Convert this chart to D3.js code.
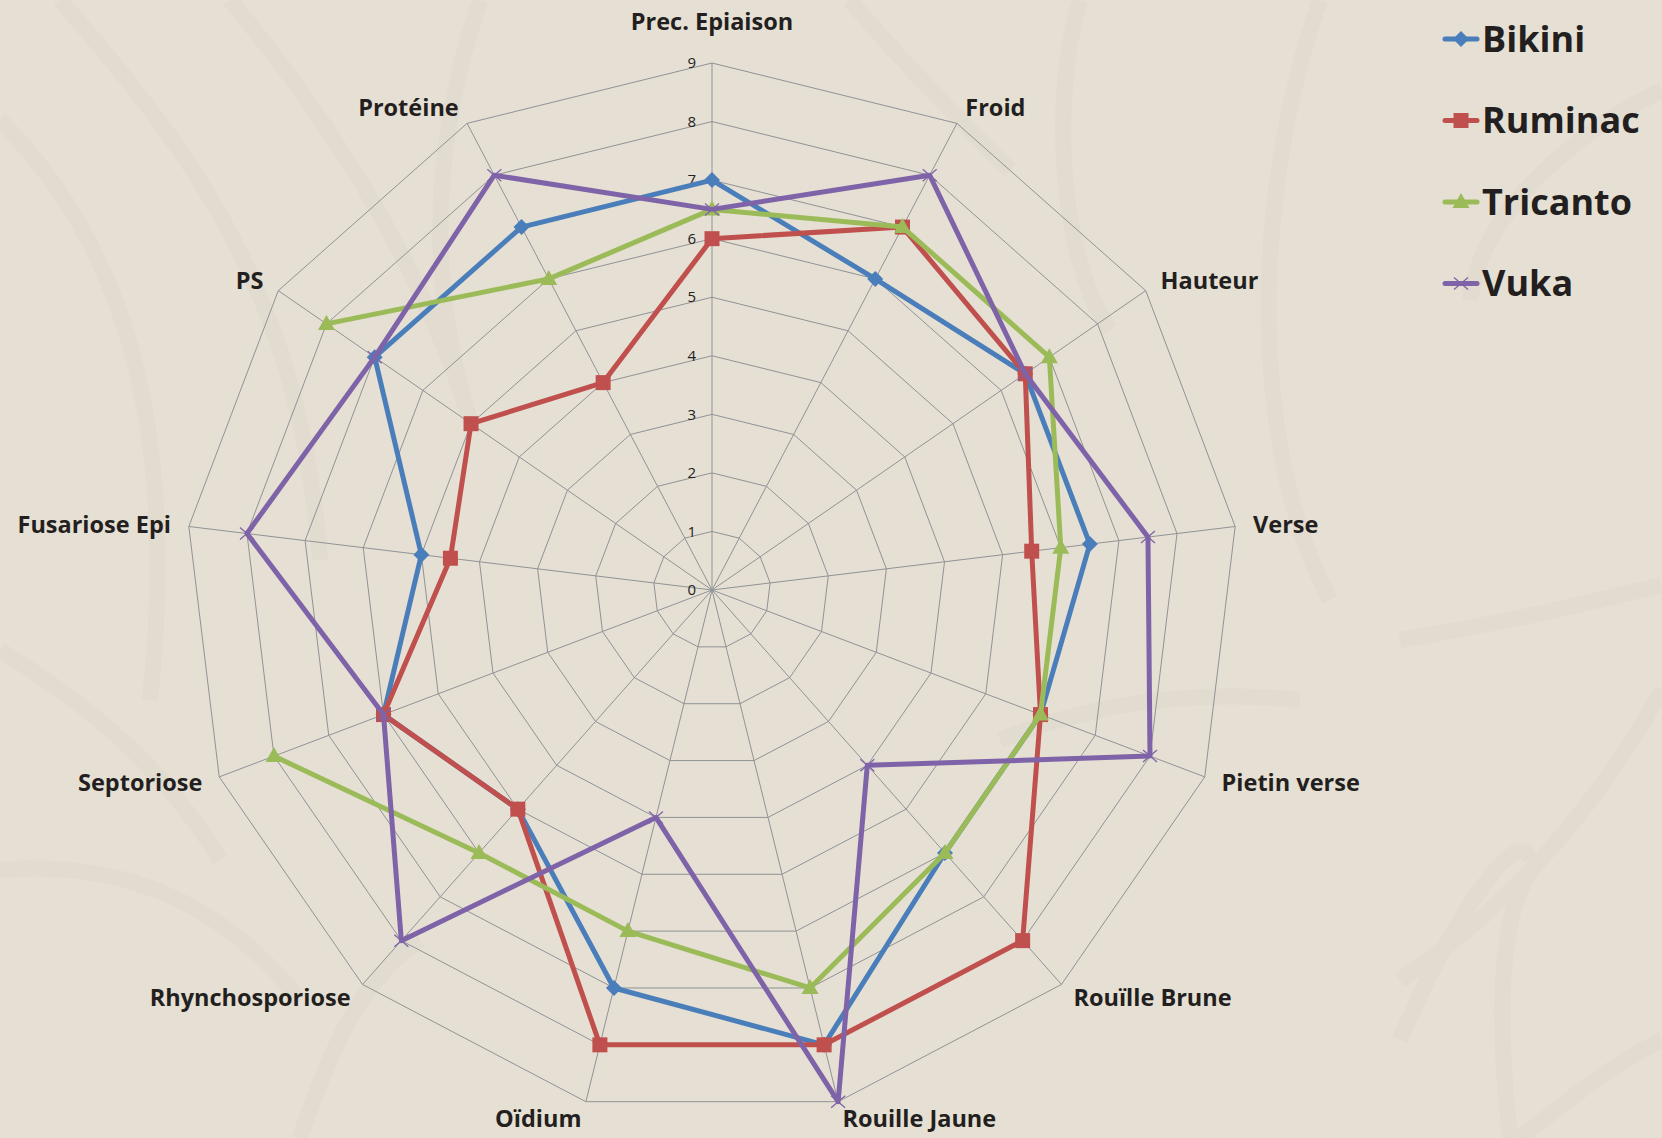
<!DOCTYPE html>
<html>
<head>
<meta charset="utf-8">
<script src="https://cdn.jsdelivr.net/npm/d3@7"></script>
<style>
  body { margin: 0; background: #e6dfd3; }
  svg { display: block; }
</style>
</head>
<body>
<script>
// axes of the radar, clockwise from the top
var categories = ["Prec. Epiaison", "Froid", "Hauteur", "Verse", "Pietin verse", "Rouïlle Brune",
  "Rouille Jaune", "Oïdium", "Rhynchosporiose", "Septoriose", "Fusariose Epi", "PS", "Protéine"];

var seriesNames = ["Bikini", "Ruminac", "Tricanto", "Vuka"];
var bikini   = [7, 6, 6.5, 6.5, 6, 6, 8, 7, 5, 6, 5, 7, 7];
var ruminac  = [6, 7, 6.5, 5.5, 6, 8, 8, 8, 5, 6, 4.5, 5, 4];
var tricanto = [6.5, 7, 7, 6, 6, 6, 7, 6, 6, 8, null, 8, 6];  // no value for Fusariose Epi
var vuka     = [6.5, 8, 6.5, 7.5, 8, 4, 9, 4, 8, 6, 8, 7, 8];
var ticks = [0, 1, 2, 3, 4, 5, 6, 7, 8, 9];

var colors = {Bikini: "#4a7ebb", Ruminac: "#c0504d", Tricanto: "#9bbb59", Vuka: "#7f63a8"};
var markers = {Bikini: "diamond", Ruminac: "square", Tricanto: "triangle", Vuka: "x"};
var values = {Bikini: bikini, Ruminac: ruminac, Tricanto: tricanto, Vuka: vuka};

var width = 1662, height = 1138,
    cx = 712, cy = 590, R = 527;

var svg = d3.select("body").append("svg")
    .attr("width", width)
    .attr("height", height);

svg.append("rect").attr("width", width).attr("height", height).attr("fill", "#e6dfd3");

// faint leaf pattern of the background
var deco = svg.append("g").attr("fill", "none").attr("stroke", "#e2dbcf").attr("stroke-width", 16);
[
  "M0,120 C120,240 180,420 150,700",
  "M60,0 C200,160 300,300 320,560",
  "M230,0 C330,120 420,260 470,420",
  "M480,0 C440,120 420,260 470,420",
  "M850,0 C900,60 960,120 1010,170",
  "M1080,0 C1050,100 1060,260 1110,330",
  "M1320,0 C1250,200 1250,450 1330,600",
  "M1662,90 C1560,140 1480,220 1470,300",
  "M1400,640 C1520,620 1600,600 1662,585",
  "M1400,980 C1520,900 1600,800 1662,690",
  "M1400,1040 C1450,920 1520,820 1530,860",
  "M1510,1138 C1495,1000 1500,900 1540,860",
  "M1520,1138 C1580,1090 1620,1060 1662,1040",
  "M0,650 C80,700 160,760 220,860",
  "M0,870 C120,860 220,900 300,1000",
  "M300,1138 C330,1050 360,980 420,940",
  "M1000,740 C1100,700 1200,690 1300,700"
].forEach(function(d) { deco.append("path").attr("d", d); });

var rScale = d3.scaleLinear().domain([0, 9]).range([0, R]);
var step = 2 * Math.PI / categories.length;
var angle = function(i) { return i * step; };
var px = function(i, v) { return cx + rScale(v) * Math.sin(angle(i)); };
var py = function(i, v) { return cy - rScale(v) * Math.cos(angle(i)); };

var grid = svg.append("g").attr("fill", "none").attr("stroke", "#8f9396").attr("stroke-width", 1);

// rings
ticks.slice(1).forEach(function(t) {
  grid.append("path")
    .attr("d", d3.line()(categories.map(function(c, i) { return [px(i, t), py(i, t)]; })) + "Z");
});

// spokes
categories.forEach(function(c, i) {
  grid.append("line")
    .attr("x1", cx).attr("y1", cy)
    .attr("x2", px(i, 9)).attr("y2", py(i, 9));
});

// tick labels along the top spoke
svg.append("g").selectAll("text")
  .data(ticks)
  .enter()
  .append("text")
  .attr("x", cx - 16)
  .attr("y", function(d) { return py(0, d); })
  .attr("dy", "0.35em")
  .attr("text-anchor", "end")
  .style("font-family", "'Open Sans', sans-serif")
  .style("font-size", "15px")
  .attr("fill", "#222")
  .text(function(d) { return d; });

// category labels
svg.append("g").selectAll("text")
  .data(categories)
  .enter()
  .append("text")
  .each(function(d, i) {
    var s = Math.sin(angle(i)), c = Math.cos(angle(i));
    var r = R + 18;
    var x = cx + r * s, y = cy - r * c;
    var anchor = Math.abs(s) < 0.1 ? "middle" : (s > 0 ? "start" : "end");
    if (Math.abs(s) < 0.1) y -= 23;
    d3.select(this)
      .attr("x", x).attr("y", y)
      .attr("dy", "0.35em")
      .attr("text-anchor", anchor);
  })
  .style("font-family", "'Open Sans', sans-serif")
  .style("font-weight", "bold")
  .style("font-size", "23.5px")
  .attr("fill", "#231f20")
  .text(function(d) { return d; });

var markerPath = function(type) {
  if (type === "diamond") return "M0,-8L8,0L0,8L-8,0Z";
  if (type === "square") return "M-7.5,-7.5H7.5V7.5H-7.5Z";
  if (type === "triangle") return "M0,-9L8.5,6L-8.5,6Z";
  return "M-7,-6L7,6M-7,6L7,-6";
};

var drawMarker = function(g, type, color, x, y) {
  var m = g.append("path")
    .attr("d", markerPath(type))
    .attr("transform", "translate(" + x + "," + y + ")");
  if (type === "x") {
    m.attr("fill", "none").attr("stroke", color).attr("stroke-width", 1.3);
  } else {
    m.attr("fill", color).attr("stroke", "none");
  }
};

var line = d3.line()
    .defined(function(d) { return d.v != null; })
    .x(function(d) { return px(d.i, d.v); })
    .y(function(d) { return py(d.i, d.v); });

// series, closed by repeating the first axis
seriesNames.forEach(function(name) {
  var vals = values[name];
  var pts = vals.map(function(v, i) { return {i: i, v: v}; });
  pts.push({i: 0, v: vals[0]});
  var g = svg.append("g");
  g.append("path")
    .attr("d", line(pts))
    .attr("fill", "none")
    .attr("stroke", colors[name])
    .attr("stroke-width", 5)
    .attr("stroke-linejoin", "round");
  vals.forEach(function(v, i) {
    if (v == null) return;
    drawMarker(g, markers[name], colors[name], px(i, v), py(i, v));
  });
});

// legend
var legend = svg.append("g");
seriesNames.forEach(function(name, k) {
  var y = 39 + k * 81.5;
  legend.append("line")
    .attr("x1", 1445).attr("x2", 1477)
    .attr("y1", y).attr("y2", y)
    .attr("stroke", colors[name])
    .attr("stroke-width", 5)
    .attr("stroke-linecap", "round");
  drawMarker(legend, markers[name], colors[name], 1461, y);
  legend.append("text")
    .attr("x", 1482).attr("y", y)
    .attr("dy", "0.36em")
    .style("font-family", "'Open Sans', sans-serif")
    .style("font-weight", "bold")
    .style("font-size", "36px")
    .attr("fill", "#231f20")
    .text(name);
});
</script>
</body>
</html>
